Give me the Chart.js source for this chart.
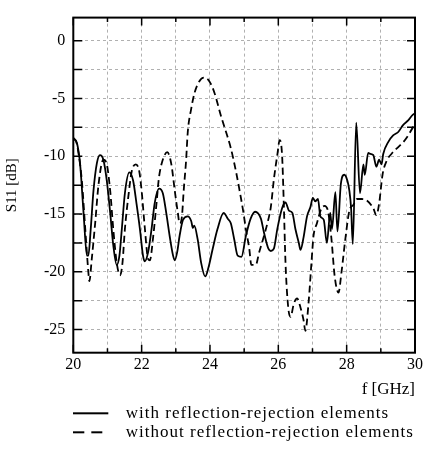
<!DOCTYPE html>
<html><head><meta charset="utf-8">
<script src="https://cdn.jsdelivr.net/npm/chart.js@4/dist/chart.umd.min.js"></script>
<style>html,body{margin:0;padding:0;background:#fff;}</style>
</head><body>
<canvas id="c" width="425" height="450"></canvas>
<script>
// ---- data ----
const seriesLabels = ['with reflection-rejection elements', 'without reflection-rejection elements'];
const xTickValues = [20, 21, 22, 23, 24, 25, 26, 27, 28, 29, 30];
const yTickValues = [-25, -22.5, -20, -17.5, -15, -12.5, -10, -7.5, -5, -2.5, 0];

const withFreq = [20.00,20.11,20.20,20.30,20.40,20.44,20.51,20.59,20.69,20.78,20.88,20.98,21.08,21.17,21.27,21.35,21.42,21.51,21.64,21.75,21.85,21.95,22.04,22.09,22.19,22.29,22.38,22.51,22.62,22.72,22.82,22.92,22.97,23.04,23.11,23.21,23.35,23.45,23.50,23.54,23.64,23.74,23.86,23.95,24.08,24.22,24.40,24.52,24.61,24.71,24.81,24.92,25.05,25.19,25.32,25.49,25.58,25.71,25.78,25.87,25.97,26.11,26.21,26.31,26.41,26.50,26.60,26.65,26.74,26.84,26.94,27.01,27.08,27.16,27.23,27.33,27.42,27.52,27.57,27.67,27.73,27.83,27.93,28.02,28.08,28.13,28.18,28.28,28.39,28.49,28.53,28.63,28.70,28.78,28.87,28.95,29.02,29.07,29.22,29.36,29.51,29.65,29.80,29.94,30.00];
const withS11 = [-8.4,-8.9,-10.7,-14.9,-18.6,-18.6,-16.3,-13.0,-10.6,-9.9,-10.3,-12.1,-14.9,-17.7,-19.4,-18.6,-16.3,-13.2,-11.4,-12.1,-14.1,-16.3,-18.6,-19.1,-18.3,-16.3,-14.1,-12.8,-13.2,-14.9,-16.9,-18.6,-19.0,-18.3,-16.9,-15.5,-15.2,-15.6,-16.2,-16.0,-17.2,-19.2,-20.4,-19.7,-18.0,-16.3,-14.9,-15.4,-15.8,-17.2,-18.6,-18.7,-16.9,-15.4,-14.8,-15.4,-16.6,-18.0,-18.2,-18.0,-16.3,-14.5,-14.0,-14.7,-14.9,-16.3,-17.5,-18.1,-17.0,-15.2,-14.4,-13.6,-13.9,-13.7,-15.2,-15.5,-17.5,-14.9,-16.3,-13.1,-16.5,-12.4,-11.6,-12.1,-13.0,-14.5,-17.6,-7.1,-13.2,-10.7,-11.6,-9.7,-9.8,-9.9,-10.9,-10.3,-10.7,-9.8,-8.75,-8.2,-7.9,-7.3,-6.9,-6.4,-6.3];

const withoutFreq = [20.00,20.08,20.15,20.25,20.35,20.44,20.47,20.54,20.64,20.74,20.88,20.98,21.08,21.17,21.27,21.37,21.44,21.51,21.61,21.71,21.83,21.93,22.00,22.09,22.19,22.24,22.34,22.45,22.50,22.58,22.75,22.87,22.97,23.06,23.11,23.18,23.23,23.30,23.35,23.45,23.55,23.69,23.82,23.98,24.13,24.32,24.47,24.61,24.76,24.85,24.98,25.05,25.15,25.21,25.34,25.44,25.58,25.68,25.78,25.87,25.97,26.04,26.11,26.16,26.21,26.29,26.36,26.45,26.55,26.65,26.74,26.79,26.89,26.97,27.03,27.13,27.25,27.35,27.45,27.55,27.65,27.76,27.85,27.96,28.08,28.20,28.30,28.44,28.58,28.78,28.87,28.95,29.05,29.17,29.31,29.51,29.65,29.80,29.94,30.00];
const withoutS11 = [-8.5,-8.7,-9.7,-12.1,-16.3,-20.0,-20.8,-18.9,-15.8,-12.4,-10.3,-10.7,-13.0,-16.3,-19.2,-20.3,-19.2,-16.3,-13.5,-11.3,-10.7,-11.3,-13.0,-16.1,-18.9,-19.0,-16.9,-13.6,-12.0,-10.7,-9.65,-10.7,-13.0,-14.9,-15.8,-15.2,-13.0,-10.4,-7.9,-5.9,-4.5,-3.5,-3.2,-3.5,-4.5,-6.5,-7.9,-9.3,-11.3,-12.7,-14.9,-16.3,-18.0,-19.4,-19.4,-18.3,-16.9,-15.8,-14.4,-12.0,-9.9,-8.6,-9.9,-14.1,-19.2,-23.1,-23.9,-22.8,-22.3,-23.1,-24.2,-25.1,-22.5,-19.2,-16.9,-15.8,-14.6,-14.3,-14.7,-17.0,-20.4,-21.8,-20.0,-17.2,-14.7,-14.2,-13.7,-13.7,-13.8,-14.5,-15.1,-14.1,-11.6,-10.4,-9.8,-9.2,-8.8,-8.2,-7.5,-7.3];

// ---- styling / rendering ----
Chart.defaults.font.family = "'Liberation Serif', 'Times New Roman', serif";
Chart.defaults.color = '#000';

function legendSample(dashed) {
  const c = document.createElement('canvas');
  c.width = 44; c.height = 6;
  const g = c.getContext('2d');
  g.strokeStyle = '#000'; g.lineWidth = 2;
  g.beginPath();
  if (dashed) { g.moveTo(0, 3); g.lineTo(11, 3); g.moveTo(18, 3); g.lineTo(29, 3); }
  else { g.moveTo(0, 3); g.lineTo(35, 3); }
  g.stroke();
  return c;
}

const framePlugin = {
  id: 'frameTicks',
  afterLayout(chart) {
    const lg = chart.legend;
    if (!lg) return;
    const pad = lg.options.labels.padding;
    const h = lg.height;
    lg.left = chart.chartArea.left - pad;
    lg.top = 402.8; lg.bottom = lg.top + h;
    if (!lg._spaced) {
      const orig = lg.draw;
      lg.draw = function () {
        const c = this.ctx; c.save(); c.letterSpacing = '1px';
        orig.apply(this, arguments); c.restore();
      };
      lg._spaced = true;
    }
  },
  afterDatasetsDraw(chart) {
    const { ctx, chartArea: a, scales: { x, y } } = chart;
    ctx.save();
    ctx.strokeStyle = '#000';
    ctx.lineWidth = 1.5;
    ctx.beginPath();
    xTickValues.forEach(v => {
      const px = x.getPixelForValue(v);
      const len = v % 2 === 0 ? 8 : 4.5;
      ctx.moveTo(px, a.bottom); ctx.lineTo(px, a.bottom - len);
      ctx.moveTo(px, a.top); ctx.lineTo(px, a.top + len);
    });
    yTickValues.forEach(v => {
      const py = y.getPixelForValue(v);
      ctx.moveTo(a.left, py); ctx.lineTo(a.left + 9, py);
      ctx.moveTo(a.right, py); ctx.lineTo(a.right - 8, py);
    });
    ctx.stroke();
    ctx.lineWidth = 2;
    ctx.strokeRect(a.left, a.top, a.right - a.left, a.bottom - a.top);
    ctx.restore();
  }
};

new Chart(document.getElementById('c'), {
  type: 'line',
  data: {
    datasets: [
      {
        label: seriesLabels[0],
        data: withFreq.map((f, i) => ({ x: f, y: withS11[i] })),
        borderColor: '#000', borderWidth: 1.8, pointRadius: 0,
        cubicInterpolationMode: 'monotone', pointStyle: legendSample(false)
      },
      {
        label: seriesLabels[1],
        data: withoutFreq.map((f, i) => ({ x: f, y: withoutS11[i] })),
        borderColor: '#000', borderWidth: 1.8, pointRadius: 0, borderDash: [7, 4],
        cubicInterpolationMode: 'monotone', pointStyle: legendSample(true)
      }
    ]
  },
  options: {
    responsive: false, animation: false, devicePixelRatio: 1,
    layout: { padding: { top: 9.3, right: 8.3, left: 0, bottom: 0 } },
    plugins: {
      tooltip: { enabled: false },
      legend: {
        position: 'bottom', align: 'start',
        labels: {
          usePointStyle: true, pointStyleWidth: 44, padding: 2,
          color: '#000', font: { size: 17 }
        }
      }
    },
    scales: {
      x: {
        type: 'linear', min: 20, max: 30,
        afterBuildTicks: s => { s.ticks = xTickValues.map(v => ({ value: v })); },
        afterFit: s => { s.height = 450 - 352.7 - (s.chart.legend ? s.chart.legend.height : 0); },
        ticks: { autoSkip: false, maxRotation: 0, padding: 2, font: { size: 16 }, color: '#000',
          callback: v => (v % 2 === 0 ? String(v) : '') },
        grid: { color: '#b0b0b0', lineWidth: 1, drawTicks: false },
        border: { display: false, dash: [3, 3] },
        title: { display: true, text: 'f [GHz]', align: 'end', color: '#000',
          font: { size: 17 }, padding: { top: 0, bottom: 2.3 } }
      },
      y: {
        type: 'linear', min: -27, max: 2,
        afterBuildTicks: s => { s.ticks = yTickValues.map(v => ({ value: v })); },
        afterFit: s => { s.width = 73.3; },
        ticks: { autoSkip: false, padding: 8, font: { size: 16 }, color: '#000',
          callback: v => (v % 5 === 0 ? String(v) : '') },
        grid: { color: '#b0b0b0', lineWidth: 1, drawTicks: false },
        border: { display: false, dash: [3, 3] },
        title: { display: true, text: 'S11 [dB]', color: '#000',
          font: { size: 15 }, padding: { top: 3, bottom: 0 } }
      }
    }
  },
  plugins: [framePlugin]
});
</script>
</body></html>
